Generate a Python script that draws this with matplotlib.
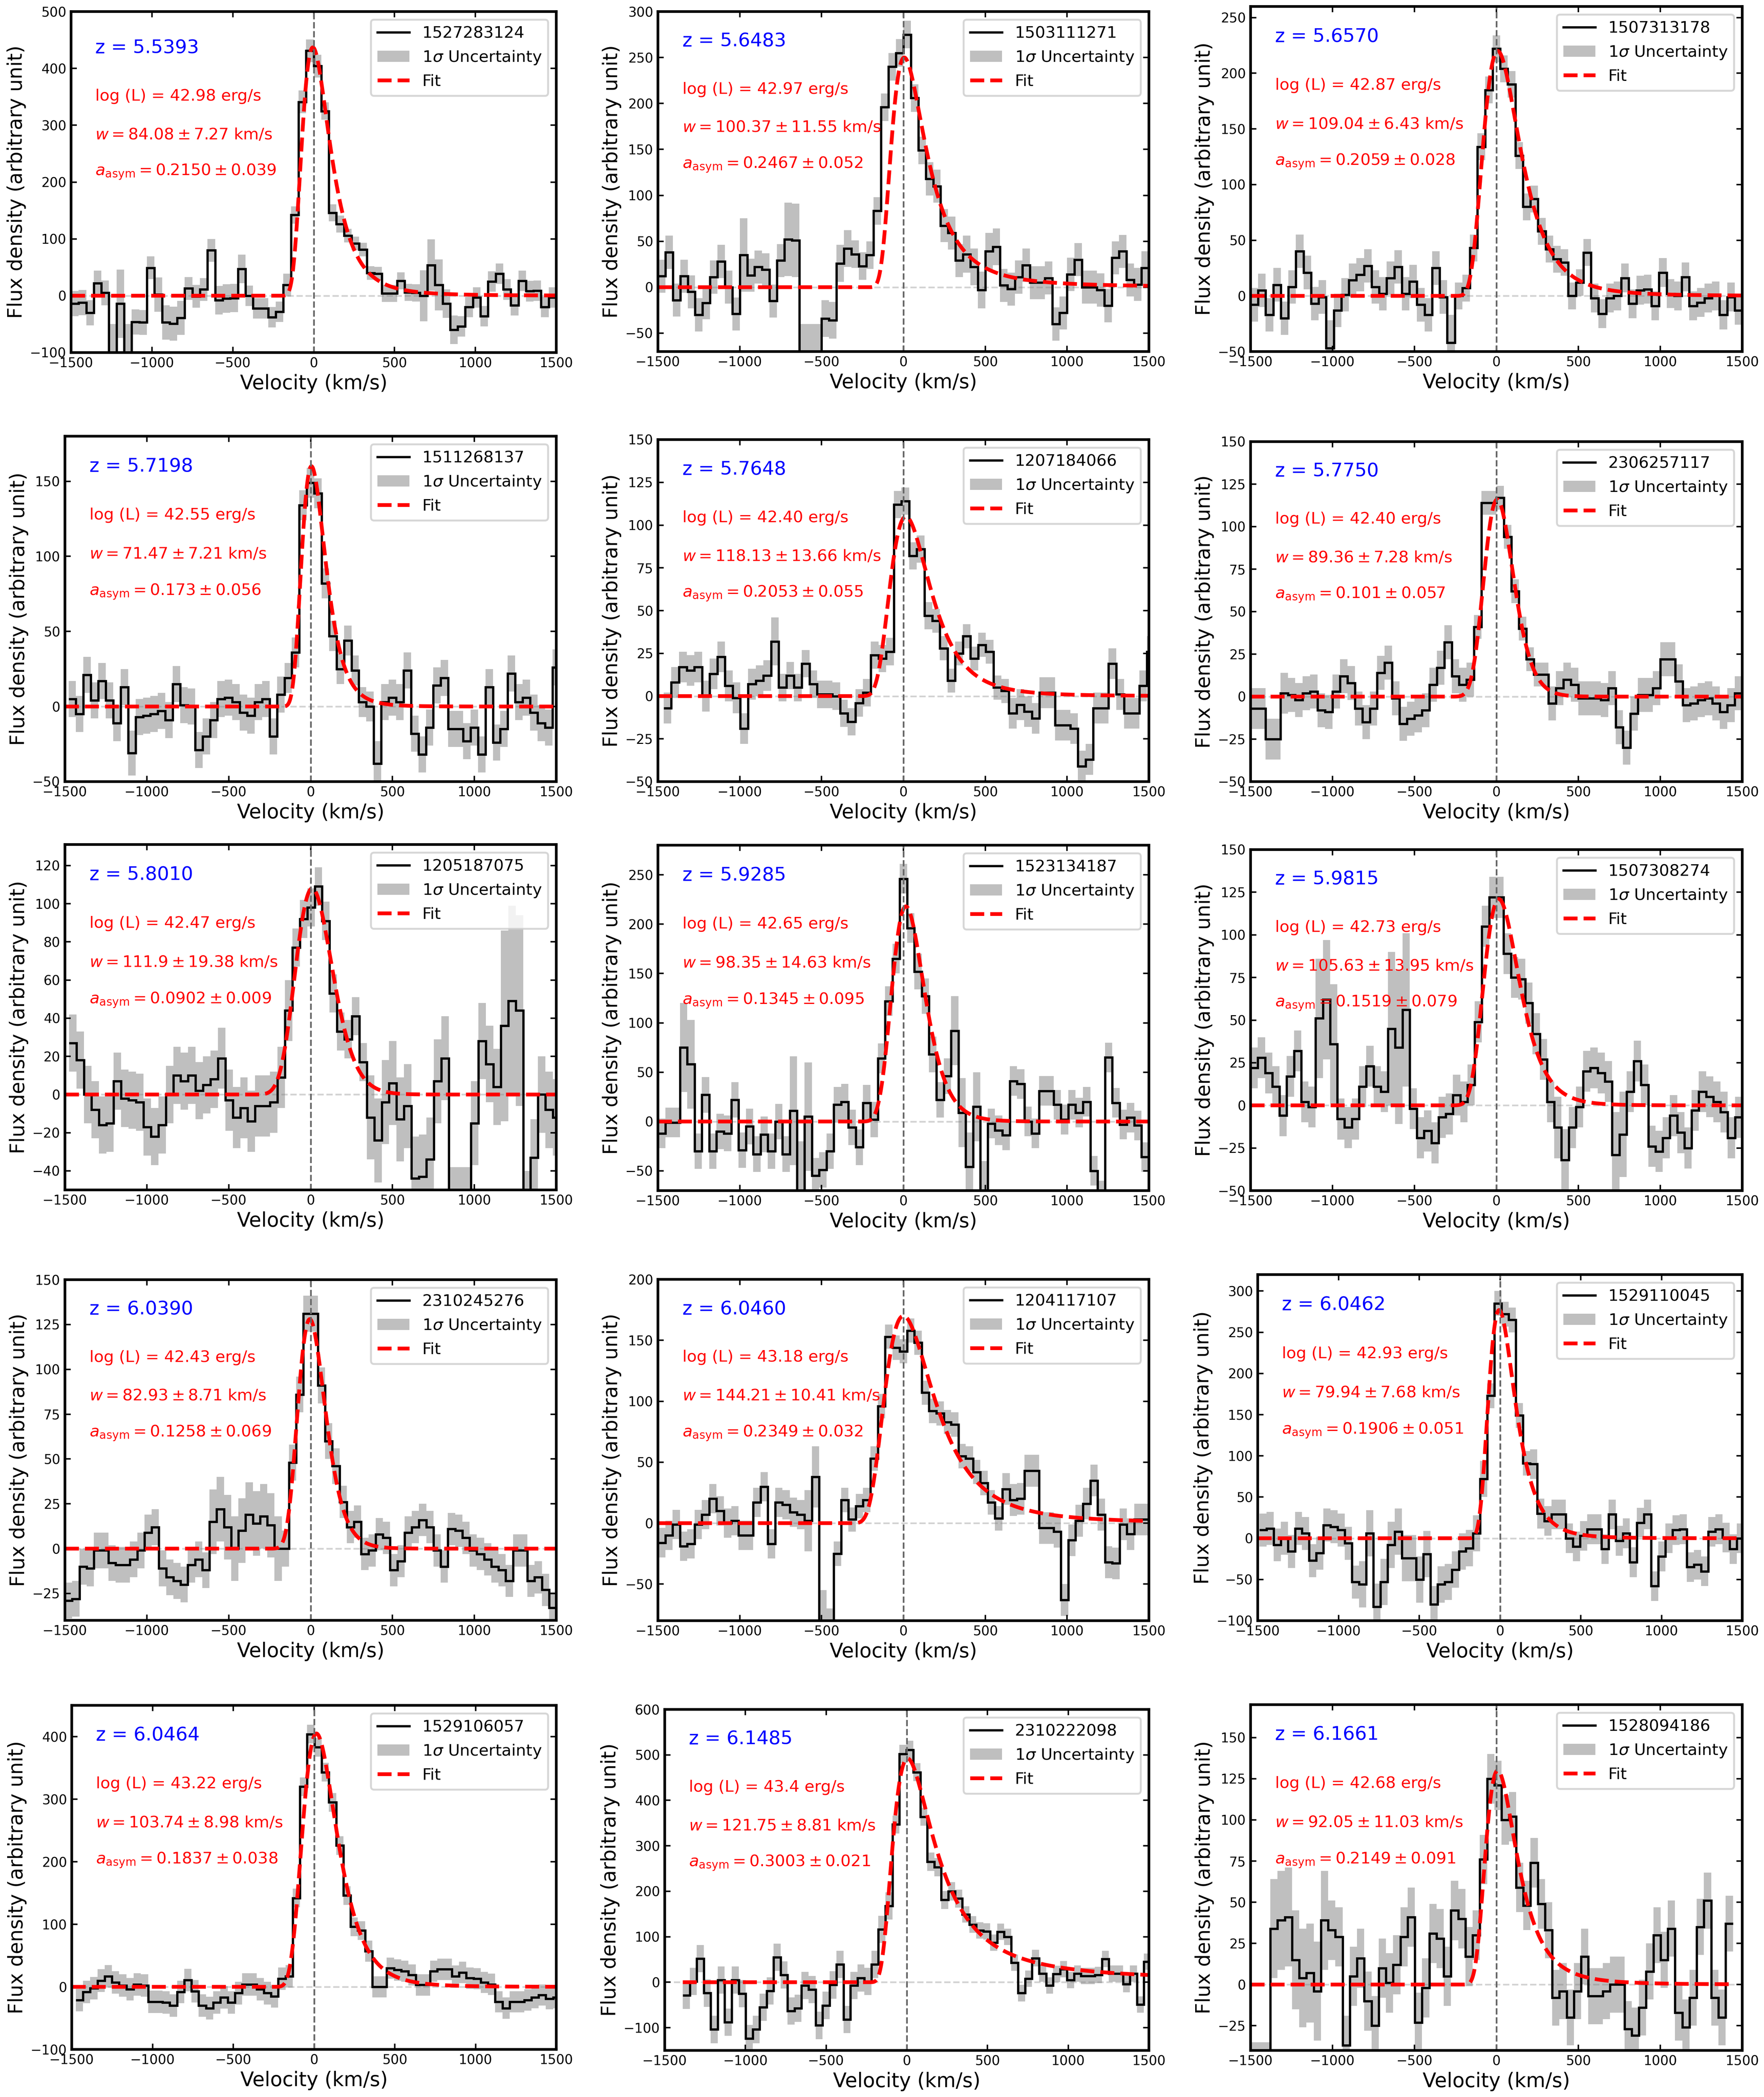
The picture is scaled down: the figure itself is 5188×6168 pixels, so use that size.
import numpy as np
import matplotlib
matplotlib.use("Agg")
import matplotlib.pyplot as plt
from matplotlib.lines import Line2D
from matplotlib.patches import Patch
from matplotlib.ticker import MultipleLocator

# ---- per-object numbers ----
ids = ["1527283124", "1503111271", "1507313178", "1511268137", "1207184066",
       "2306257117", "1205187075", "1523134187", "1507308274", "2310245276",
       "1204117107", "1529110045", "1529106057", "2310222098", "1528094186"]
redshift = ["5.5393", "5.6483", "5.6570", "5.7198", "5.7648", "5.7750", "5.8010", "5.9285",
            "5.9815", "6.0390", "6.0460", "6.0462", "6.0464", "6.1485", "6.1661"]
log_lum = ["42.98", "42.97", "42.87", "42.55", "42.40", "42.40", "42.47", "42.65",
           "42.73", "42.43", "43.18", "42.93", "43.22", "43.4", "42.68"]
w_val = ["84.08", "100.37", "109.04", "71.47", "118.13", "89.36", "111.9", "98.35",
         "105.63", "82.93", "144.21", "79.94", "103.74", "121.75", "92.05"]
w_err = ["7.27", "11.55", "6.43", "7.21", "13.66", "7.28", "19.38", "14.63",
         "13.95", "8.71", "10.41", "7.68", "8.98", "8.81", "11.03"]
a_val = ["0.2150", "0.2467", "0.2059", "0.173", "0.2053", "0.101", "0.0902", "0.1345",
         "0.1519", "0.1258", "0.2349", "0.1906", "0.1837", "0.3003", "0.2149"]
a_err = ["0.039", "0.052", "0.028", "0.056", "0.055", "0.057", "0.009", "0.095",
         "0.079", "0.069", "0.032", "0.051", "0.038", "0.021", "0.091"]
fit_amp = [437, 250, 220, 160, 105, 116, 108, 218, 121, 128, 170, 277, 405, 492, 130]
fit_v0 = [-5, 5, 8, 5, 15, 5, 10, 15, 15, -5, 0, -5, 15, 5, 8]
# velocity span covered by each spectrum (first bin edge, last bin edge)
v_range = [(-1500, 1500), (-1500, 1500), (-1500, 1500), (-1478, 1522), (-1465, 1535),
           (-1500, 1500), (-1475, 1525), (-1500, 1500), (-1500, 1500), (-1500, 1500),
           (-1500, 1500), (-1490, 1510), (-1475, 1525), (-1388, 1512), (-1512, 1443)]
# velocity span of the plotted fit curve
fit_range = [(-1500, 1500)] * 13 + [(-1388, 1500), (-1500, 1434)]
ylims = [(-100, 500), (-70, 300), (-50, 260), (-50, 180), (-50, 150), (-50, 150),
         (-50, 131), (-70, 280), (-50, 150), (-40, 150), (-80, 200), (-100, 320),
         (-100, 450), (-150, 600), (-40, 170)]
ytick_step = [100, 50, 50, 50, 25, 25, 20, 50, 25, 25, 50, 50, 100, 100, 25]

flux_01 = [-14, -12, -30, 22, 5, -110, -14, -110, -46, -47, 49, 2, -47, -49, -39, 13, -1, 11, 80, -8,
           -5, -4, 47, 0, -22, -22, -38, -28, 19, 142, 341, 431, 404, 325, 146, 126, 106, 92, 81, 40,
           39, 4, 4, 26, 6, 5, 0, 54, 19, -14, -60, -54, -20, -3, -36, 25, 39, 11, -17, 26,
           8, 9, -20, -3]
flux_02 = [12, 38, -14, 12, -5, -30, -17, 11, 28, 0, -29, 35, 13, 22, 19, -15, 29, 52, 51, -80,
           -80, -80, -34, -36, 26, 42, 36, 23, 35, 83, 196, 240, 255, 275, 206, 149, 118, 110, 67, 59,
           29, 36, 22, -3, 39, 44, 2, -2, 11, 24, 5, 5, 10, -40, -28, 14, 30, 0, 0, -3,
           -20, 32, 39, 8, 3, 21]
flux_03 = [-8, 5, -17, 10, -20, 8, 40, 21, -7, -1, -47, -13, 1, 14, 19, 27, 8, 2, 16, 26,
           2, 13, -8, -17, 25, -1, -42, 0, 7, 43, 134, 185, 222, 204, 190, 126, 80, 87, 58, 42,
           33, 30, 0, 12, 39, -2, -16, -2, 0, 16, -7, 5, 6, -9, 21, 2, 0, 17, -9, -6,
           -2, 0, -17, -1, -13]
flux_04 = [5, -5, 21, 4, 17, 4, -11, 13, -31, -7, -6, -5, -3, -9, 15, 1, 0, -29, -20, -9,
           5, 6, 3, -4, -6, 3, 5, -20, 8, 19, 36, 134, 149, 142, 82, 47, 25, 44, 24, 3,
           0, -38, 3, 6, 3, 24, -18, -32, -14, 14, 19, -15, -15, -23, -14, -32, 13, -24, -15, 22,
           3, 6, -4, -11, -14, 26]
flux_05 = [-7, 8, 17, 15, 17, 0, 13, 23, 6, -1, -19, 7, 9, 12, 32, 5, 12, 5, 19, 7,
           1, 1, 0, -10, -15, -4, 2, 24, 22, 26, 112, 114, 82, 86, 47, 44, 28, 9, 25, 35,
           22, 30, 26, 5, 3, -10, -5, -9, -13, 2, 2, -17, -17, -19, -41, -37, -7, -7, 19, 1,
           -10, -10, 6, 26]
flux_06 = [-7, -7, -25, -25, 2, 1, -2, 2, 3, -8, -9, 3, 12, 8, -7, -15, -7, 14, 20, -1,
           -16, -13, -11, -8, 7, 17, 32, 12, 7, 10, 41, 114, 114, 117, 94, 62, 40, 22, 13, 13,
           -4, 5, 10, 7, -1, -1, -1, -2, 5, -18, -30, -10, 1, 1, 5, 22, 22, 9, -5, -4,
           -2, -1, -4, -9, -5, 2]
flux_07 = [27, 18, 0, -8, -16, -15, 7, -2, -3, -4, -17, -22, -16, 0, 10, 7, 10, 2, 5, 8,
           19, -3, -12, -7, -14, -6, -6, -4, 9, 44, 77, 92, 98, 109, 91, 53, 33, 29, 41, 17,
           -12, -24, -4, 6, -13, -6, -44, -43, -34, 7, 19, -60, -60, -60, -15, 28, 16, 4, 36, 49,
           44, -60, -33, 0, -8, -12]
flux_08 = [-12, -1, -1, 75, 58, -30, 27, -30, -10, -12, 22, -29, -5, -33, -13, -30, 0, -33, 11, -75,
           5, -55, -49, -30, 17, 20, -6, -26, 19, 2, 64, 122, 165, 246, 196, 152, 127, 68, 22, 46,
           92, 9, -46, 15, -75, -2, -9, -14, 41, 38, 0, -12, 31, 31, 17, 2, 17, 9, 20, -50,
           -75, 65, 19, -3, 4, -4, -36]
flux_09 = [22, 28, 19, 11, -6, 17, 32, 2, -1, 51, 62, 36, -8, -13, -8, 11, 23, 11, 8, 45,
           34, 56, -2, -19, -15, -22, -7, -5, 6, 2, 12, 49, 105, 122, 122, 89, 75, 74, 60, 42,
           27, 2, -13, -32, -13, -1, 20, 22, 19, 14, -29, -17, 8, 26, 12, -24, -27, -19, -6, -16,
           -25, -3, 8, 5, 2, -4, -19, -7]
flux_10 = [-29, -28, -10, -11, -1, -1, -8, -9, -9, -6, -1, 9, 12, -11, -16, -18, -20, -9, -6, -12,
           15, 22, 12, 0, 10, 19, 14, 18, 13, 0, 0, 48, 86, 131, 131, 91, 60, 46, 26, 12,
           15, -3, -1, 8, 6, -12, -7, 9, 12, 16, 12, -1, -10, 11, 10, 6, -1, -3, -6, -10,
           -12, -18, -1, -1, -18, -16, -23, -33]
flux_11 = [-16, -10, -1, -19, -17, -1, 7, 20, 10, 0, 2, -10, -10, 17, 30, -17, 17, 15, 9, 7,
           2, 38, -80, -80, -25, 19, 3, 14, 19, 53, 96, 153, 144, 141, 158, 148, 107, 92, 90, 83,
           81, 55, 53, 42, 33, 17, 4, 28, 19, 20, 43, 43, -4, -4, -7, -63, -14, 2, 16, 35,
           7, -32, -33, -1, -9, 3, 3]
flux_12 = [10, 12, -8, 0, -16, 12, 6, -27, -18, 16, 14, 10, -6, -53, -56, 6, -83, -53, -8, 8,
           -24, -24, -50, -19, -80, -56, -53, -38, -16, -12, 6, 72, 173, 285, 272, 265, 149, 91, 90, 30,
           21, 29, 29, 0, -10, 3, 11, 11, -13, 29, -3, 6, -29, 19, 29, -58, -22, 0, 10, 11,
           -35, -32, -40, 8, 11, 1, -13, 0]
flux_13 = [-21, -8, -2, 10, 17, 7, 2, -4, 4, 2, -24, -24, -25, -30, -8, 11, -7, -30, -34, -25,
           -17, -25, -10, 4, 4, -4, -10, -15, 13, 17, 142, 320, 404, 383, 343, 295, 226, 146, 96, 90,
           57, 0, 0, 30, 27, 25, 19, 3, 3, 25, 28, 28, 17, 23, 14, 13, 7, 4, -24, -34,
           -24, -24, -21, -17, -13, -19, -17]
flux_14 = [-29, 2, 52, -24, -104, 5, -88, 5, -25, -124, -104, -55, -19, 55, 16, -63, -57, -7, -16, -95,
           -51, -6, 39, -82, -7, 9, 2, 39, 116, 168, 347, 502, 511, 462, 364, 265, 253, 181, 200, 184,
           149, 127, 114, 112, 87, 111, 100, 43, -24, 8, 53, 19, -7, 18, 29, 5, 19, 14, 14, 16,
           51, 19, 19, -4, 19, -49, 45]
flux_15 = [-45, -45, -45, 34, 39, 41, 15, 4, 7, -4, 39, 33, 29, -37, 5, 16, -10, -25, 10, 1,
           12, 29, 41, -23, -2, 31, 28, 5, 45, 40, 17, 30, 76, 125, 121, 100, 102, 59, 48, 74,
           49, 33, -8, -4, -20, -4, 17, -7, -7, -4, 0, 0, -27, -31, -14, 8, 30, 15, 34, -17,
           -26, -8, 35, 51, -8, -20, 37]

# 1-sigma errors, read as runs of (number of bins, error)
err_runs_01 = [(5, 22), (3, 60), (2, 22), (1, 20), (4, 30), (4, 20), (4, 25), (5, 18), (1, 20), (1, 15),
               (3, 20), (3, 15), (5, 12), (5, 15), (3, 45), (2, 25), (13, 18)]
err_runs_02 = [(11, 18), (1, 40), (5, 18), (2, 40), (3, 40), (4, 20), (5, 15), (5, 15), (5, 18), (5, 20),
               (10, 18), (10, 18)]
err_runs_03 = [(10, 15), (1, 25), (15, 15), (1, 25), (3, 12), (5, 12), (10, 12), (20, 13)]
err_runs_04 = [(8, 12), (1, 15), (20, 12), (12, 10), (1, 15), (24, 12)]
err_runs_05 = [(14, 9), (1, 14), (20, 8), (10, 7), (19, 9)]
err_runs_06 = [(5, 12), (25, 10), (10, 7), (26, 10)]
err_runs_07 = [(20, 15), (10, 16), (10, 10), (15, 22), (3, 20), (3, 50), (5, 20)]
err_runs_08 = [(3, 15), (2, 45), (13, 18), (3, 55), (9, 18), (5, 15), (5, 18), (5, 35), (22, 15)]
err_runs_09 = [(9, 12), (3, 35), (7, 12), (3, 45), (11, 12), (8, 12), (1, 12), (2, 18), (6, 12), (2, 25),
               (16, 12)]
err_runs_10 = [(20, 10), (10, 18), (8, 10), (30, 9)]
err_runs_11 = [(20, 12), (3, 25), (10, 10), (14, 10), (20, 13)]
err_runs_12 = [(14, 20), (10, 28), (8, 22), (6, 15), (30, 18)]
err_runs_13 = [(30, 18), (10, 15), (27, 17)]
err_runs_14 = [(30, 30), (10, 20), (27, 18)]
err_runs_15 = [(3, 10), (8, 30), (20, 18), (10, 15), (26, 17)]

fluxes = [flux_01, flux_02, flux_03, flux_04, flux_05, flux_06, flux_07, flux_08,
          flux_09, flux_10, flux_11, flux_12, flux_13, flux_14, flux_15]
err_runs = [err_runs_01, err_runs_02, err_runs_03, err_runs_04, err_runs_05, err_runs_06,
            err_runs_07, err_runs_08, err_runs_09, err_runs_10, err_runs_11, err_runs_12,
            err_runs_13, err_runs_14, err_runs_15]

# ---- layout: axes boxes in output pixels (left, right, top, bottom) ----
W_PX, H_PX, DPI = 5188, 6168, 400
boxes = [(209, 1636, 34, 1037), (1935, 3379, 34, 1034), (3678, 5124, 19, 1034),
         (191, 1636, 1283, 2299), (1935, 3379, 1293, 2299), (3678, 5124, 1299, 2299),
         (191, 1636, 2484, 3500), (1935, 3379, 2486, 3502), (3678, 5124, 2499, 3502),
         (191, 1636, 3764, 4766), (1935, 3379, 3763, 4767), (3699, 5124, 3749, 4767),
         (211, 1636, 5016, 6028), (1955, 3379, 5028, 6031), (3678, 5124, 5014, 6031)]
z_text_y = [0.893] + [0.913] * 14


def expand_runs(pairs):
    return np.concatenate([np.full(n, v, dtype=float) for n, v in pairs])


def asym_gauss(v, amp, v0, w, a):
    dv = v - v0
    sig = a * dv + w
    with np.errstate(divide="ignore", invalid="ignore"):
        f = amp * np.exp(-dv ** 2 / (2 * sig ** 2))
    return np.nan_to_num(f)


fig = plt.figure(figsize=(W_PX / DPI, H_PX / DPI), dpi=DPI)

for i in range(15):
    l, r, t, b = boxes[i]
    ax = fig.add_axes([l / W_PX, 1 - b / H_PX, (r - l) / W_PX, (b - t) / H_PX])

    flux = np.array(fluxes[i], dtype=float)
    err = expand_runs(err_runs[i])
    assert len(err) == len(flux), (i, len(err), len(flux))
    vmin, vmax = v_range[i]
    edges = np.linspace(vmin, vmax, len(flux) + 1)

    ax.stairs(flux + err, edges, baseline=flux - err, fill=True, color="gray", alpha=0.5, lw=0)
    ax.stairs(flux, edges, baseline=None, color="black", lw=1.2)

    vv = np.linspace(*fit_range[i], 1500)
    ax.plot(vv, asym_gauss(vv, fit_amp[i], fit_v0[i], float(w_val[i]), float(a_val[i])),
            color="red", ls="--", lw=2)

    ax.axvline(0, color="dimgray", ls="--", lw=0.9)
    ax.axhline(0, color="lightgray", ls="--", lw=0.9, zorder=0)

    ax.set_xlim(-1500, 1500)
    ax.set_ylim(*ylims[i])
    ax.set_xticks([-1500, -1000, -500, 0, 500, 1000, 1500])
    ax.yaxis.set_major_locator(MultipleLocator(ytick_step[i]))
    ax.tick_params(direction="in", top=True, right=True, labelsize=7, length=3, pad=2.5)
    for s in ax.spines.values():
        s.set_linewidth(1.4)
    ax.set_xlabel("Velocity (km/s)", fontsize=10.5, labelpad=2)
    ax.set_ylabel("Flux density (arbitrary unit)", fontsize=10.5, labelpad=2)

    y0 = z_text_y[i]
    ax.text(0.05, y0, "z = " + redshift[i], color="blue", fontsize=10,
            transform=ax.transAxes, va="center")
    ax.text(0.05, y0 - 0.142, "log (L) = " + log_lum[i] + " erg/s", color="red", fontsize=8.5,
            transform=ax.transAxes, va="center")
    ax.text(0.05, y0 - 0.255, r"$w = %s \pm %s$ km/s" % (w_val[i], w_err[i]), color="red",
            fontsize=8.5, transform=ax.transAxes, va="center")
    ax.text(0.05, y0 - 0.363, r"$a_{\rm asym} = %s \pm %s$" % (a_val[i], a_err[i]), color="red",
            fontsize=8.5, transform=ax.transAxes, va="center")

    handles = [Line2D([], [], color="black", lw=1.2),
               Patch(facecolor="gray", alpha=0.5, lw=0),
               Line2D([], [], color="red", ls="--", lw=2)]
    ax.legend(handles, [ids[i], r"1$\sigma$ Uncertainty", "Fit"], loc="upper right", fontsize=8.5)

fig.savefig("out.png", dpi=DPI)
